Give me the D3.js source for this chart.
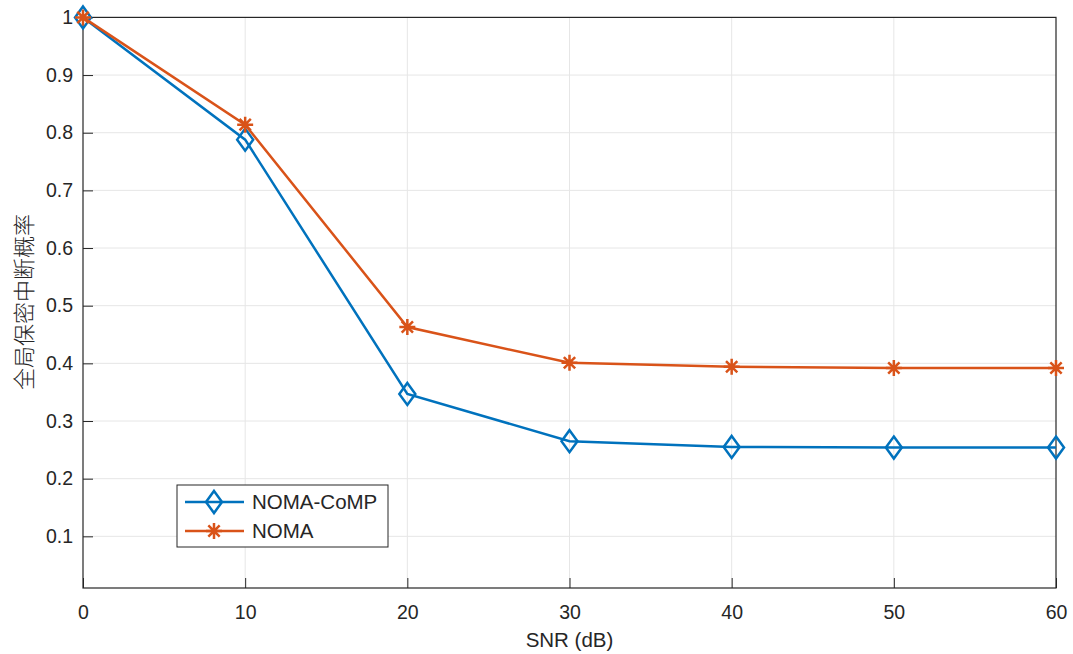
<!DOCTYPE html>
<html>
<head>
<meta charset="utf-8">
<script src="https://cdn.jsdelivr.net/npm/d3@7"></script>
<style>
body { margin: 0; background: #fff; }
text { font-family: "Liberation Sans", Arial, sans-serif; fill: #262626; }
</style>
</head>
<body>
<div id="svgDiv"></div>
<script>
var w = 1073;
var h = 654;

// data
var snr = [0, 10, 20, 30, 40, 50, 60];
var comp = [1.0, 0.788, 0.347, 0.265, 0.255, 0.254, 0.254];
var noma = [1.0, 0.814, 0.463, 0.401, 0.394, 0.392, 0.392];
var xTicks = [0, 10, 20, 30, 40, 50, 60];
var yTicks = [0.1, 0.2, 0.3, 0.4, 0.5, 0.6, 0.7, 0.8, 0.9, 1];
var seriesNames = ["NOMA-CoMP", "NOMA"];

var blue = "#0072BD", red = "#D95319";

var svg = d3.select("#svgDiv")
	.append("svg")
	.attr("width", w)
	.attr("height", h);

var pLeft = 83, pRight = 1056, pTop = 17.4, pBottom = 588;

var x = d3.scaleLinear().domain([0, 60]).range([pLeft, pRight]);
var y = d3.scaleLinear().domain([0.0104, 1]).range([pBottom, pTop]);

// grid
svg.append("g").selectAll("line").data(xTicks.slice(1, -1)).enter().append("line")
	.attr("x1", d => x(d)).attr("x2", d => x(d))
	.attr("y1", pTop).attr("y2", pBottom)
	.style("stroke", "#e6e6e6").style("stroke-width", 1);
svg.append("g").selectAll("line").data(yTicks.slice(0, -1)).enter().append("line")
	.attr("x1", pLeft).attr("x2", pRight)
	.attr("y1", d => y(d)).attr("y2", d => y(d))
	.style("stroke", "#e6e6e6").style("stroke-width", 1);

// axes
var xAxis = svg.append("g").attr("transform", "translate(0," + pBottom + ")")
	.call(d3.axisBottom(x).tickValues(xTicks).tickSize(-10).tickPadding(17).tickSizeOuter(0));
var yAxis = svg.append("g").attr("transform", "translate(" + pLeft + ",0)")
	.call(d3.axisLeft(y).tickValues(yTicks).tickSize(-10).tickPadding(10).tickFormat(d3.format("~g")).tickSizeOuter(0));
[xAxis, yAxis].forEach(function (a) {
	a.select(".domain").remove();
	a.selectAll("line").style("stroke", "#262626").style("stroke-width", 1);
	a.selectAll("text").style("font-size", "19.5px").style("fill", "#262626");
});

// box
svg.append("rect")
	.attr("x", pLeft).attr("y", pTop)
	.attr("width", pRight - pLeft).attr("height", pBottom - pTop)
	.style("fill", "none").style("stroke", "#262626").style("stroke-width", 1.2);

// labels
svg.append("text")
	.attr("x", (pLeft + pRight) / 2).attr("y", 647)
	.attr("text-anchor", "middle")
	.style("font-size", "20.5px")
	.text("SNR (dB)");
svg.append("text")
	.attr("transform", "translate(32," + 302 + ") rotate(-90)")
	.attr("text-anchor", "middle")
	.style("font-family", "'Noto Sans CJK SC', sans-serif")
	.style("font-weight", 300)
	.style("font-size", "22px")
	.text("全局保密中断概率");

var line = d3.line()
	.x(d => x(d[0]))
	.y(d => y(d[1]));

function diamond(g, cx, cy, col) {
	g.append("path")
		.attr("d", "M" + cx + "," + (cy - 11) + "L" + (cx + 8) + "," + cy + "L" + cx + "," + (cy + 11) + "L" + (cx - 8) + "," + cy + "Z")
		.style("fill", "none").style("stroke", col).style("stroke-width", 2.5);
}
function star(g, cx, cy, col) {
	var r = 8;
	var p = "";
	[0, 45, 90, 135].forEach(function (a) {
		var t = a * Math.PI / 180;
		p += "M" + (cx - r * Math.cos(t)) + "," + (cy - r * Math.sin(t)) + "L" + (cx + r * Math.cos(t)) + "," + (cy + r * Math.sin(t));
	});
	g.append("path").attr("d", p)
		.style("fill", "none").style("stroke", col).style("stroke-width", 2.5);
}

var dComp = snr.map((s, i) => [s, comp[i]]);
var dNoma = snr.map((s, i) => [s, noma[i]]);

var gComp = svg.append("g");
gComp.append("path").datum(dComp).attr("d", line)
	.style("fill", "none").style("stroke", blue).style("stroke-width", 2.5);
dComp.forEach(d => diamond(gComp, x(d[0]), y(d[1]), blue));

var gNoma = svg.append("g");
gNoma.append("path").datum(dNoma).attr("d", line)
	.style("fill", "none").style("stroke", red).style("stroke-width", 2.5);
dNoma.forEach(d => star(gNoma, x(d[0]), y(d[1]), red));

// legend
var lg = svg.append("g");
lg.append("rect").attr("x", 177).attr("y", 485).attr("width", 211).attr("height", 62)
	.style("fill", "#fff").style("stroke", "#262626").style("stroke-width", 1);
var rows = [502, 531];
[blue, red].forEach(function (col, i) {
	lg.append("line").attr("x1", 185).attr("x2", 244).attr("y1", rows[i]).attr("y2", rows[i])
		.style("stroke", col).style("stroke-width", 2.5);
	if (i == 0) diamond(lg, 214, rows[i], col); else star(lg, 214, rows[i], col);
	lg.append("text").attr("x", 252).attr("y", rows[i] + 7)
		.style("font-size", "20.5px").text(seriesNames[i]);
});
</script>
</body>
</html>
